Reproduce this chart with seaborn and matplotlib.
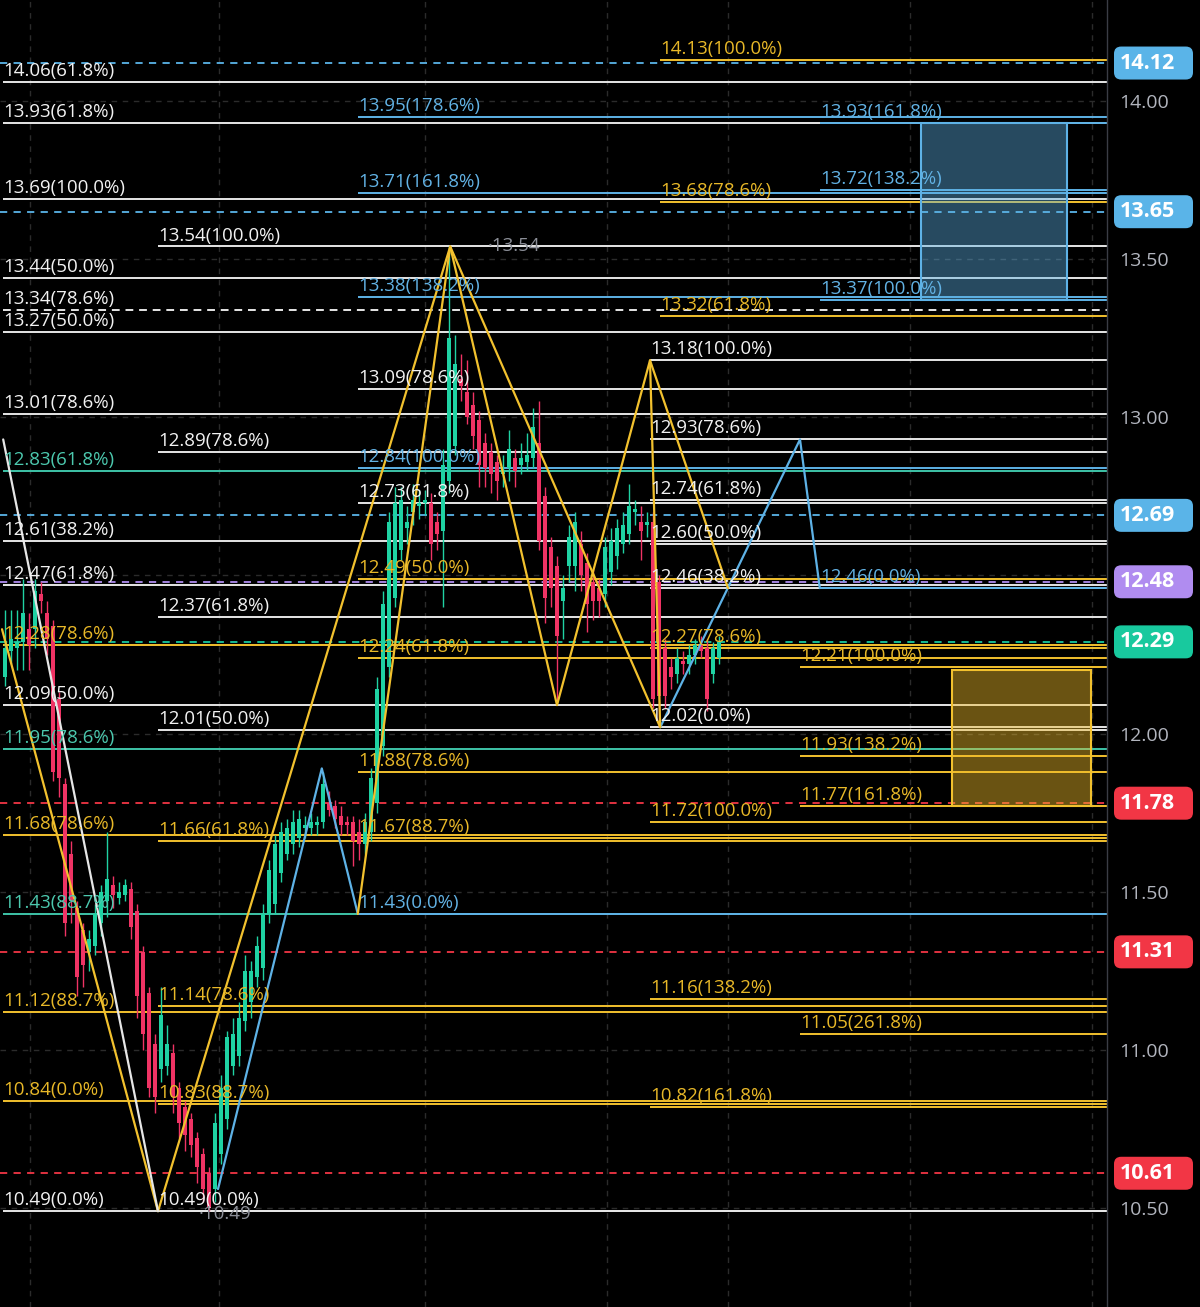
import numpy as np
import pandas as pd
import matplotlib
matplotlib.use('Agg')
import matplotlib.pyplot as plt
from matplotlib.patches import Rectangle, FancyBboxPatch
import seaborn as sns

sns.set_theme(style='dark', rc={'axes.facecolor': '#000000', 'figure.facecolor': '#000000'})
plt.rcParams['font.family'] = ['Open Sans', 'DejaVu Sans']

# candles, one per bar
opens = [12.18, 12.26, 12.27, 12.29, 12.33, 12.33, 12.44, 12.38, 12.34, 12.11,
         11.84, 11.62, 11.45, 11.38, 11.31, 11.33, 11.40, 11.47, 11.52, 11.48,
         11.49, 11.51, 11.44, 11.31, 11.18, 11.02, 10.94, 10.95, 10.99, 10.88,
         10.82, 10.78, 10.72, 10.67, 10.61, 10.56, 10.67, 10.78, 10.95, 10.98,
         11.09, 11.15, 11.23, 11.26, 11.43, 11.46, 11.56, 11.62, 11.65, 11.67,
         11.70, 11.70, 11.71, 11.72, 11.78, 11.77, 11.74, 11.72, 11.72, 11.69,
         11.65, 11.69, 11.78, 11.96, 12.21, 12.43, 12.58, 12.65, 12.70, 12.72,
         12.73, 12.73, 12.67, 12.64, 12.80, 12.91, 13.12, 13.08, 13.04, 12.99,
         12.92, 12.89, 12.86, 12.82, 12.84, 12.87, 12.85, 12.86, 12.87, 12.92,
         12.75, 12.59, 12.53, 12.42, 12.53, 12.53, 12.60, 12.54, 12.48, 12.46,
         12.44, 12.51, 12.56, 12.60, 12.63, 12.70, 12.67, 12.66, 12.67, 12.48,
         12.27, 12.21, 12.19, 12.23, 12.22, 12.25, 12.28, 12.27, 12.19, 12.24]
highs = [12.39, 12.39, 12.39, 12.49, 12.38, 12.49, 12.48, 12.42, 12.36, 12.13,
         11.86, 11.66, 11.47, 11.40, 11.38, 11.46, 11.52, 11.69, 11.55, 11.53,
         11.54, 11.53, 11.46, 11.33, 11.20, 11.05, 11.20, 11.08, 11.02, 10.90,
         10.84, 10.80, 10.74, 10.69, 10.63, 10.80, 10.92, 11.06, 11.10, 11.15,
         11.30, 11.28, 11.36, 11.46, 11.60, 11.68, 11.72, 11.73, 11.76, 11.76,
         11.74, 11.75, 11.74, 11.88, 11.82, 11.79, 11.77, 11.74, 11.74, 11.73,
         11.75, 11.89, 12.18, 12.45, 12.70, 12.78, 12.78, 12.72, 12.79, 12.77,
         12.77, 12.76, 12.70, 12.90, 13.54, 13.26, 13.20, 13.18, 13.08, 13.02,
         12.95, 12.92, 12.88, 12.88, 12.96, 12.90, 12.92, 12.95, 13.03, 13.05,
         12.78, 12.62, 12.56, 12.50, 12.66, 12.70, 12.64, 12.57, 12.52, 12.49,
         12.62, 12.65, 12.68, 12.70, 12.79, 12.74, 12.72, 12.70, 12.70, 12.50,
         12.30, 12.24, 12.27, 12.26, 12.28, 12.30, 12.31, 12.30, 12.29, 12.31]
lows = [12.15, 12.22, 12.20, 12.20, 12.20, 12.27, 12.38, 12.25, 11.85, 11.80,
        11.36, 11.40, 11.17, 11.20, 11.25, 11.30, 11.36, 11.42, 11.45, 11.46,
        11.47, 11.35, 11.10, 11.00, 10.85, 10.80, 10.90, 10.92, 10.80, 10.72,
        10.68, 10.66, 10.58, 10.52, 10.49, 10.52, 10.64, 10.75, 10.92, 10.95,
        11.06, 11.10, 11.20, 11.22, 11.40, 11.43, 11.53, 11.60, 11.62, 11.64,
        11.67, 11.68, 11.68, 11.70, 11.74, 11.70, 11.68, 11.68, 11.58, 11.60,
        11.62, 11.66, 11.75, 11.93, 12.18, 12.40, 12.55, 12.60, 12.66, 12.68,
        12.69, 12.55, 12.58, 12.40, 12.76, 12.88, 13.05, 12.98, 12.90, 12.78,
        12.78, 12.76, 12.74, 12.78, 12.80, 12.78, 12.82, 12.83, 12.84, 12.58,
        12.35, 12.40, 12.10, 12.30, 12.48, 12.45, 12.45, 12.32, 12.36, 12.37,
        12.40, 12.47, 12.52, 12.57, 12.60, 12.66, 12.55, 12.62, 12.08, 12.02,
        12.08, 12.14, 12.16, 12.19, 12.19, 12.22, 12.24, 12.07, 12.16, 12.22]
closes = [12.27, 12.30, 12.29, 12.38, 12.28, 12.45, 12.42, 12.30, 11.88, 11.86,
          11.40, 11.47, 11.23, 11.27, 11.35, 11.43, 11.50, 11.54, 11.49, 11.50,
          11.52, 11.39, 11.17, 11.05, 10.88, 10.85, 11.11, 11.02, 10.85, 10.77,
          10.73, 10.70, 10.63, 10.56, 10.50, 10.77, 10.88, 11.04, 11.05, 11.10,
          11.25, 11.25, 11.33, 11.43, 11.57, 11.65, 11.69, 11.70, 11.72, 11.73,
          11.71, 11.72, 11.72, 11.84, 11.76, 11.73, 11.71, 11.71, 11.66, 11.65,
          11.72, 11.86, 12.14, 12.41, 12.67, 12.73, 12.74, 12.67, 12.74, 12.73,
          12.74, 12.60, 12.63, 12.85, 13.25, 13.17, 13.10, 13.00, 12.94, 12.85,
          12.84, 12.82, 12.80, 12.83, 12.90, 12.83, 12.87, 12.88, 12.97, 12.61,
          12.43, 12.46, 12.31, 12.46, 12.62, 12.67, 12.50, 12.41, 12.42, 12.42,
          12.59, 12.61, 12.65, 12.66, 12.72, 12.71, 12.64, 12.67, 12.11, 12.12,
          12.12, 12.18, 12.24, 12.22, 12.25, 12.28, 12.26, 12.11, 12.27, 12.29]

# fib levels: price, ratio, colour group, bar where the drawing starts
fib_prices = [14.06, 13.93, 13.69, 13.44, 13.34, 13.27, 13.01, 12.83, 12.61, 12.47,
              12.28, 12.09, 11.95, 11.68, 11.43, 11.12, 10.84, 10.49,
              13.54, 12.89, 12.37, 12.01, 11.66, 11.14, 10.83, 10.49,
              13.95, 13.71, 13.38, 13.09, 12.84, 12.73, 12.49, 12.24, 11.88, 11.67, 11.43,
              14.13, 13.68, 13.32,
              13.18, 12.93, 12.74, 12.60, 12.46, 12.27, 12.02, 11.72, 11.16, 10.82,
              13.93, 13.72, 13.37, 12.46,
              12.21, 11.93, 11.77, 11.05]
fib_ratios = ['61.8%', '61.8%', '100.0%', '50.0%', '78.6%', '50.0%', '78.6%', '61.8%', '38.2%', '61.8%',
              '78.6%', '50.0%', '78.6%', '78.6%', '88.7%', '88.7%', '0.0%', '0.0%',
              '100.0%', '78.6%', '61.8%', '50.0%', '61.8%', '78.6%', '88.7%', '0.0%',
              '178.6%', '161.8%', '138.2%', '78.6%', '100.0%', '61.8%', '50.0%', '61.8%', '78.6%', '88.7%', '0.0%',
              '100.0%', '78.6%', '61.8%',
              '100.0%', '78.6%', '61.8%', '50.0%', '38.2%', '78.6%', '0.0%', '100.0%', '138.2%', '161.8%',
              '161.8%', '138.2%', '100.0%', '0.0%',
              '100.0%', '138.2%', '161.8%', '261.8%']
fib_groups = ['white', 'white', 'white', 'white', 'white_dash', 'white', 'white', 'teal', 'white', 'white',
              'gold', 'white', 'teal', 'gold', 'teal', 'gold', 'gold', 'white',
              'white', 'white', 'white', 'white', 'gold', 'gold', 'gold', 'white',
              'blue', 'blue', 'blue', 'white', 'blue', 'white', 'gold', 'gold', 'gold', 'gold', 'blue',
              'gold', 'gold', 'gold',
              'white', 'white', 'white', 'white', 'white', 'gold', 'white', 'gold', 'gold', 'gold',
              'blue', 'blue', 'blue', 'blue',
              'gold', 'gold', 'gold', 'gold']
fib_start = [-0.3] * 18 + [25.5] * 8 + [58.8] * 11 + [109.2] * 3 + [107.5] * 10 + [135.8] * 4 + [132.5] * 4

# last-price style tags on the right
tag_prices = [14.12, 13.65, 12.69, 12.48, 12.29, 11.78, 11.31, 10.61]
tag_groups = ['blue', 'blue', 'blue', 'purple', 'teal', 'red', 'red', 'red']

# axis ticks (12.50 sits under the 12.48 tag, so it shows no label)
tick_prices = [10.5, 11.0, 11.5, 12.0, 12.5, 13.0, 13.5, 14.0]
tick_labels = ['10.50', '11.00', '11.50', '12.00', '', '13.00', '13.50', '14.00']

# pattern legs (bar, price)
gold_a_bars = [-0.5, 25.5, 74.2, 92.0, 107.5, 120.5]
gold_a_prices = [12.33, 10.49, 13.54, 12.09, 13.18, 12.46]
gold_b_bars = [58.8, 74.2, 109.2, 107.5]
gold_b_prices = [11.43, 13.54, 12.02, 13.18]
white_bars = [-0.3, 25.5]
white_prices = [12.93, 10.49]
blue_a_bars = [35.5, 52.8, 58.8]
blue_a_prices = [10.56, 11.89, 11.43]
blue_b_bars = [109.2, 132.5, 135.8]
blue_b_prices = [12.02, 12.93, 12.46]

# projection zones
blue_zone_bars = [152.7, 177.0]
blue_zone_prices = [13.37, 13.93]
gold_zone_bars = [157.8, 181.0]
gold_zone_prices = [11.77, 12.20]

line_col = {'white': '#e6e6e6', 'white_dash': '#e6e6e6', 'gold': '#f2c12e',
            'blue': '#5eb2e6', 'teal': '#3ec4a8'}
text_col = {'white': '#f2f2f2', 'white_dash': '#f2f2f2', 'gold': '#e8b828',
            'blue': '#62b2e4', 'teal': '#4cc8ae'}
tag_col = {'blue': '#5ab4e8', 'purple': '#b08cf0', 'teal': '#18c99e', 'red': '#f23645'}
up_col, down_col = '#1fd2a3', '#ef3364'

fig = plt.figure(figsize=(12, 13.07), dpi=100)
ax = fig.add_axes([0, 0, 1107 / 1200, 1])
ax.set_facecolor('#000000')

x_lo, x_hi = -5 / 6, 1102 / 6
y_lo, y_hi = 10.1872, 14.3193
ax.set_xlim(x_lo, x_hi)
ax.set_ylim(y_lo, y_hi)

# grid
ax.set_xticks([4.2, 35.7, 70.0, 100.3, 120.5, 150.8, 181.2])
ax.set_xticklabels([])
ax.set_yticks(tick_prices)
ax.grid(True, color='#2b2b2b', ls=(0, (4, 4)), lw=1)
ax.yaxis.tick_right()
ax.set_yticklabels(tick_labels, color='#b2b5be', fontsize=14)
ax.tick_params(axis='y', length=0, pad=9)
ax.tick_params(axis='x', length=0)
for s in ['top', 'left', 'bottom']:
    ax.spines[s].set_visible(False)
ax.spines['right'].set_color('#3a3d45')
ax.spines['right'].set_linewidth(1)

# fib levels
for p, r, g, s in zip(fib_prices, fib_ratios, fib_groups, fib_start):
    ls = (0, (4, 3)) if g == 'white_dash' else '-'
    ax.hlines(p, s, x_hi, colors=line_col[g], lw=1.4, ls=ls, zorder=2)
    ax.annotate(f'{p:.2f}({r})', xy=(s, p), xytext=(0, 4.3), textcoords='offset points',
                ha='left', va='baseline', color=text_col[g], fontsize=13.5, zorder=6)

# dashed price lines
for p, g in zip(tag_prices, tag_groups):
    ax.axhline(p, color=tag_col[g], lw=1.3, ls=(0, (4, 3.5)), zorder=2.5)

# zones
ax.add_patch(Rectangle((blue_zone_bars[0], blue_zone_prices[0]), blue_zone_bars[1] - blue_zone_bars[0],
                       blue_zone_prices[1] - blue_zone_prices[0], fc=(0.37, 0.70, 0.90, 0.42),
                       ec='#5eb2e6', lw=1.5, zorder=2.7))
ax.add_patch(Rectangle((gold_zone_bars[0], gold_zone_prices[0]), gold_zone_bars[1] - gold_zone_bars[0],
                       gold_zone_prices[1] - gold_zone_prices[0], fc=(0.95, 0.75, 0.17, 0.44),
                       ec='#f2c12e', lw=1.5, zorder=2.7))

# candles
xs = np.arange(len(opens))
o, h, l, c = map(np.array, (opens, highs, lows, closes))
cols = np.where(c >= o, up_col, down_col)
ax.vlines(xs, l, h, colors=cols, lw=1, zorder=3)
ax.bar(xs, np.maximum(np.abs(c - o), 0.008), bottom=np.minimum(o, c), width=0.74,
       color=cols, linewidth=0, zorder=3.1)

# pattern legs
legs = pd.concat([
    pd.DataFrame({'bar': gold_a_bars, 'price': gold_a_prices, 'leg': 'ga', 'kind': 'gold'}),
    pd.DataFrame({'bar': gold_b_bars, 'price': gold_b_prices, 'leg': 'gb', 'kind': 'gold'}),
    pd.DataFrame({'bar': white_bars, 'price': white_prices, 'leg': 'w', 'kind': 'white'}),
    pd.DataFrame({'bar': blue_a_bars, 'price': blue_a_prices, 'leg': 'ba', 'kind': 'blue'}),
    pd.DataFrame({'bar': blue_b_bars, 'price': blue_b_prices, 'leg': 'bb', 'kind': 'blue'}),
])
for kind, sub in legs.groupby('kind'):
    sns.lineplot(data=sub, x='bar', y='price', units='leg', estimator=None, sort=False,
                 color=line_col[kind], lw=1.6, ax=ax, legend=False, zorder=4)
ax.set_xlabel('')
ax.set_ylabel('')

# high / low markers
ax.annotate('\u00b713.54', xy=(74, 13.54), xytext=(39, 0), textcoords='offset pixels',
            ha='left', va='center', color='#8b8e97', fontsize=13.5, zorder=6)
ax.annotate('\u00b710.49', xy=(34, 10.49), xytext=(-10, -3), textcoords='offset pixels',
            ha='left', va='center', color='#8b8e97', fontsize=13.5, zorder=6)

# price tags on the axis
ytr = ax.get_yaxis_transform()
tag_h = 33 / 316.3
aspect = 1107 / 316.3
for p, g in zip(tag_prices, tag_groups):
    box = FancyBboxPatch((1 + 7 / 1107, p - tag_h / 2), 79 / 1107, tag_h,
                         boxstyle='round,pad=0,rounding_size=0.0065', mutation_aspect=aspect,
                         transform=ytr, fc=tag_col[g], ec='none', clip_on=False, zorder=7)
    ax.add_patch(box)
    ax.text(1 + 13 / 1107, p, f'{p:.2f}', transform=ytr, ha='left', va='center',
            color='white', fontsize=15.5, fontweight='bold', clip_on=False, zorder=8)

fig.savefig('out.png', dpi=100, facecolor='#000000')
